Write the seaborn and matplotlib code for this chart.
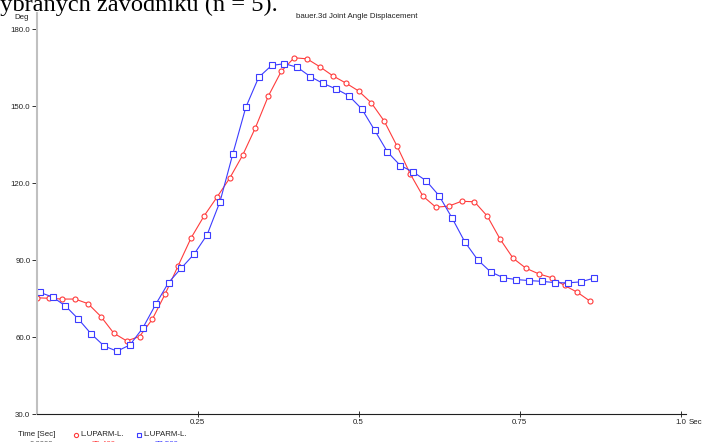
import matplotlib
matplotlib.use("Agg")
import matplotlib.pyplot as plt
import seaborn as sns
import pandas as pd

# Joint angle samples (seconds, degrees)
time_red = [0.00, 0.02, 0.04, 0.06, 0.08, 0.10, 0.12, 0.14, 0.16, 0.18, 0.20,
            0.22, 0.24, 0.26, 0.28, 0.30, 0.32, 0.34, 0.36, 0.38, 0.40, 0.42,
            0.44, 0.46, 0.48, 0.50, 0.52, 0.54, 0.56, 0.58, 0.60, 0.62, 0.64,
            0.66, 0.68, 0.70, 0.72, 0.74, 0.76, 0.78, 0.80, 0.82, 0.84, 0.86]
angle_red = [75.4, 75.2, 74.9, 74.9, 73.1, 68.1, 61.6, 58.6, 60.3, 67.1, 77.0,
             87.9, 98.7, 107.2, 114.5, 122.0, 130.9, 141.7, 154.0, 163.6, 168.9, 168.5,
             165.4, 161.9, 159.1, 156.0, 151.3, 144.2, 134.4, 123.8, 115.0, 110.7, 111.1,
             113.0, 112.8, 107.2, 98.2, 90.8, 86.9, 84.7, 83.2, 80.2, 77.5, 74.0]

time_blue = [0.005, 0.025, 0.045, 0.065, 0.085, 0.105, 0.125, 0.145, 0.165, 0.185, 0.205,
             0.225, 0.245, 0.265, 0.285, 0.305, 0.325, 0.345, 0.365, 0.385, 0.405, 0.425,
             0.445, 0.465, 0.485, 0.505, 0.525, 0.545, 0.565, 0.585, 0.605, 0.625, 0.645,
             0.665, 0.685, 0.705, 0.725, 0.745, 0.765, 0.785, 0.805, 0.825, 0.845, 0.865]
angle_blue = [77.5, 75.7, 72.2, 67.1, 61.3, 56.6, 54.6, 57.0, 63.6, 72.8, 81.3,
              87.0, 92.5, 100.0, 112.9, 131.6, 149.6, 161.3, 165.9, 166.6, 165.2, 161.6,
              158.9, 156.8, 154.1, 149.0, 140.7, 132.2, 126.9, 124.4, 121.0, 115.2, 106.6,
              97.2, 90.2, 85.5, 83.2, 82.5, 82.1, 81.8, 81.3, 81.2, 81.6, 83.0]

series_label = "L.UPARM-L."
x_ticks = [0.25, 0.5, 0.75, 1.0]
x_tick_labels = ["0.25", "0.5", "0.75", "1.0"]
y_ticks = [30, 60, 90, 120, 150, 180]
y_tick_labels = ["30.0", "60.0", "90.0", "120.0", "150.0", "180.0"]

RED = "#ff3c3c"
BLUE = "#3c3cff"

sns.set_style("white")
plt.rcParams["font.family"] = ["Liberation Sans", "DejaVu Sans"]

W, H = 706, 442
fig = plt.figure(figsize=(W / 100, H / 100), dpi=100)
fig.patch.set_facecolor("white")

left_px, right_px, top_px, bottom_px = 36.5, 686.0, 13.0, 414.3
ax = fig.add_axes([left_px / W, 1 - bottom_px / H,
                   (right_px - left_px) / W, (bottom_px - top_px) / H])

df_red = pd.DataFrame({"t": time_red, "deg": angle_red})
df_blue = pd.DataFrame({"t": time_blue, "deg": angle_blue})

sns.lineplot(data=df_red, x="t", y="deg", ax=ax, color=RED, linewidth=0.8,
             marker="o", markersize=3.6, markerfacecolor="white",
             markeredgecolor=RED, markeredgewidth=0.8, sort=False, errorbar=None)
sns.lineplot(data=df_blue, x="t", y="deg", ax=ax, color=BLUE, linewidth=0.8,
             marker="s", markersize=3.8, markerfacecolor="white",
             markeredgecolor=BLUE, markeredgewidth=0.8, sort=False, errorbar=None)

ax.set_xlim(0, 1.0085)
ax.set_ylim(30, 186.35)
ax.set_xlabel("")
ax.set_ylabel("")

ax.set_xticks(x_ticks)
ax.set_xticklabels(x_tick_labels)
ax.set_yticks(y_ticks)
ax.set_yticklabels(y_tick_labels)

for s in ("top", "right"):
    ax.spines[s].set_visible(False)
ax.spines["left"].set_color("#c0c0c0")
ax.spines["left"].set_linewidth(1.5)
ax.spines["bottom"].set_color("#202020")
ax.spines["bottom"].set_linewidth(0.8)

ax.tick_params(axis="x", direction="inout", length=5, width=0.7, color="#303030",
               labelsize=5.7, labelcolor="#222222", pad=1, bottom=True)
ax.tick_params(axis="y", direction="out", length=3.5, width=0.7, color="#303030",
               labelsize=5.7, labelcolor="#222222", pad=1, left=True)

# Overlay in pixel coordinates for captions and the readout row
ov = fig.add_axes([0, 0, 1, 1], zorder=5)
ov.set_xlim(0, W)
ov.set_ylim(H, 0)
ov.axis("off")
ov.patch.set_alpha(0)

txt = dict(fontsize=5.7, color="#222222")
ov.text(357, 17, "bauer.3d Joint Angle Displacement", ha="center", va="center", **txt)
ov.text(21.5, 17.5, "Deg", ha="center", va="center", **txt)
ov.text(689, 422.5, "Sec", ha="left", va="center", **txt)

# Document caption above the chart
ov.text(-12, 10.5, "vybraných závodníků (n = 5).", ha="left", va="baseline",
        fontsize=17.6, family=["Liberation Serif", "DejaVu Serif"], color="black")

# Readout row
ov.text(18, 435, "Time [Sec]", ha="left", va="center", **txt)
ov.plot([76], [434.5], marker="o", markersize=3.0, markerfacecolor="white",
        markeredgecolor=RED, markeredgewidth=0.8, linestyle="none")
ov.text(80, 435, series_label, ha="left", va="center", **txt)
ov.plot([139], [434.5], marker="s", markersize=3.0, markerfacecolor="white",
        markeredgecolor=BLUE, markeredgewidth=0.8, linestyle="none")
ov.text(143, 435, series_label, ha="left", va="center", **txt)

ov.text(30, 445, "0.0000", ha="left", va="center", fontsize=5.7, color="#555555")
ov.text(92, 445, f"{angle_red[0]:.3f}", ha="left", va="center", fontsize=5.7, color=RED)
ov.text(155, 445, f"{angle_blue[0]:.3f}", ha="left", va="center", fontsize=5.7, color=BLUE)

fig.savefig("out.png", dpi=100)
